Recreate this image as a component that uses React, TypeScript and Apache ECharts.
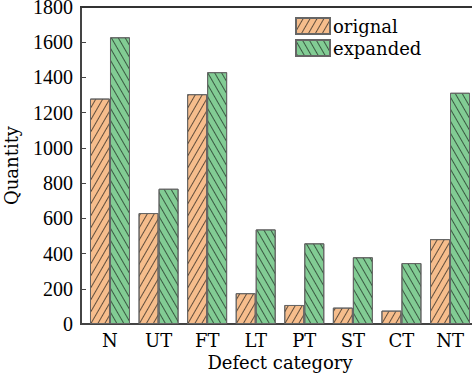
import React, { useEffect, useRef } from "react";
import * as echarts from "echarts";

const categories = ["N", "UT", "FT", "LT", "PT", "ST", "CT", "NT"];
const original = [1280, 630, 1305, 175, 108, 93, 76, 482];
const expanded = [1628, 768, 1430, 537, 458, 379, 346, 1313];
const yTicks = { min: 0, max: 1800, interval: 200 };

export default function App() {
  const ref = useRef<HTMLDivElement>(null);
  useEffect(() => {
    const chart = echarts.init(ref.current!, null, { renderer: "svg" });
    const serif = "DejaVu Serif";
    chart.setOption({
      animation: false,
      backgroundColor: "#ffffff",
      grid: { left: 85.7, top: 7, right: -2.3, bottom: 53, containLabel: false, outerBoundsMode: "none" },
      legend: {
        left: 290,
        top: 12,
        orient: "vertical",
        icon: "rect",
        itemWidth: 34,
        itemHeight: 16,
        itemGap: 4,
        textStyle: { fontFamily: serif, fontSize: 18, lineHeight: 16, color: "#000", padding: [0, 0, 0, -2] },
        data: ["orignal", "expanded"],
      },
      xAxis: {
        type: "category",
        data: categories,
        axisLine: { show: true, lineStyle: { color: "#444", width: 2 } },
        axisTick: { show: false },
        axisLabel: { fontFamily: serif, fontSize: 18, color: "#000", margin: 7 },
        name: "Defect category",
        nameLocation: "middle",
        nameGap: 29,
        nameTextStyle: { fontFamily: serif, fontSize: 18, color: "#000" },
      },
      yAxis: {
        type: "value",
        min: yTicks.min,
        max: yTicks.max,
        interval: yTicks.interval,
        offset: 4.7,
        splitLine: { show: false },
        axisLine: { show: true, lineStyle: { color: "#444", width: 2 } },
        axisTick: { show: true, inside: true, length: 5, lineStyle: { color: "#444" } },
        axisLabel: {
          fontFamily: "Liberation Serif",
          fontSize: 20,
          lineHeight: 14,
          padding: [6, 0, 0, 0],
          color: "#000",
          margin: 8,
          formatter: (v: number) => String(v),
        },
        name: "Quantity",
        nameLocation: "middle",
        nameGap: 61,
        nameTextStyle: { fontFamily: serif, fontSize: 18, color: "#000" },
      },
      graphic: [
        { type: "line", shape: { x1: 80, y1: 324, x2: 90, y2: 324 }, style: { stroke: "#444", lineWidth: 2 }, z: 10 },
        { type: "line", shape: { x1: 80, y1: 7, x2: 472, y2: 7 }, style: { stroke: "#333", lineWidth: 2 }, z: 10 },
      ],
      series: [
        {
          name: "orignal",
          type: "bar",
          data: original,
          barWidth: 20,
          barGap: "0%",
          itemStyle: {
            color: "#F6BD8C",
            borderColor: "#666",
            borderWidth: 1,
            decal: {
              symbol: "rect",
              symbolSize: 1,
              dashArrayX: [1, 0],
              dashArrayY: [1, 4.5],
              rotation: -Math.PI / 3,
              color: "rgba(60,50,40,0.8)",
            },
          },
        },
        {
          name: "expanded",
          type: "bar",
          data: expanded,
          barWidth: 20,
          itemStyle: {
            color: "#82CC94",
            borderColor: "#666",
            borderWidth: 1,
            decal: {
              symbol: "rect",
              symbolSize: 1,
              dashArrayX: [1, 0],
              dashArrayY: [1, 4.5],
              rotation: Math.PI / 3,
              color: "rgba(40,60,45,0.8)",
            },
          },
        },
      ],
    });
    return () => chart.dispose();
  }, []);
  return <div ref={ref} style={{ width: 472, height: 377, position: "absolute", left: 0, top: 0 }} />;
}
